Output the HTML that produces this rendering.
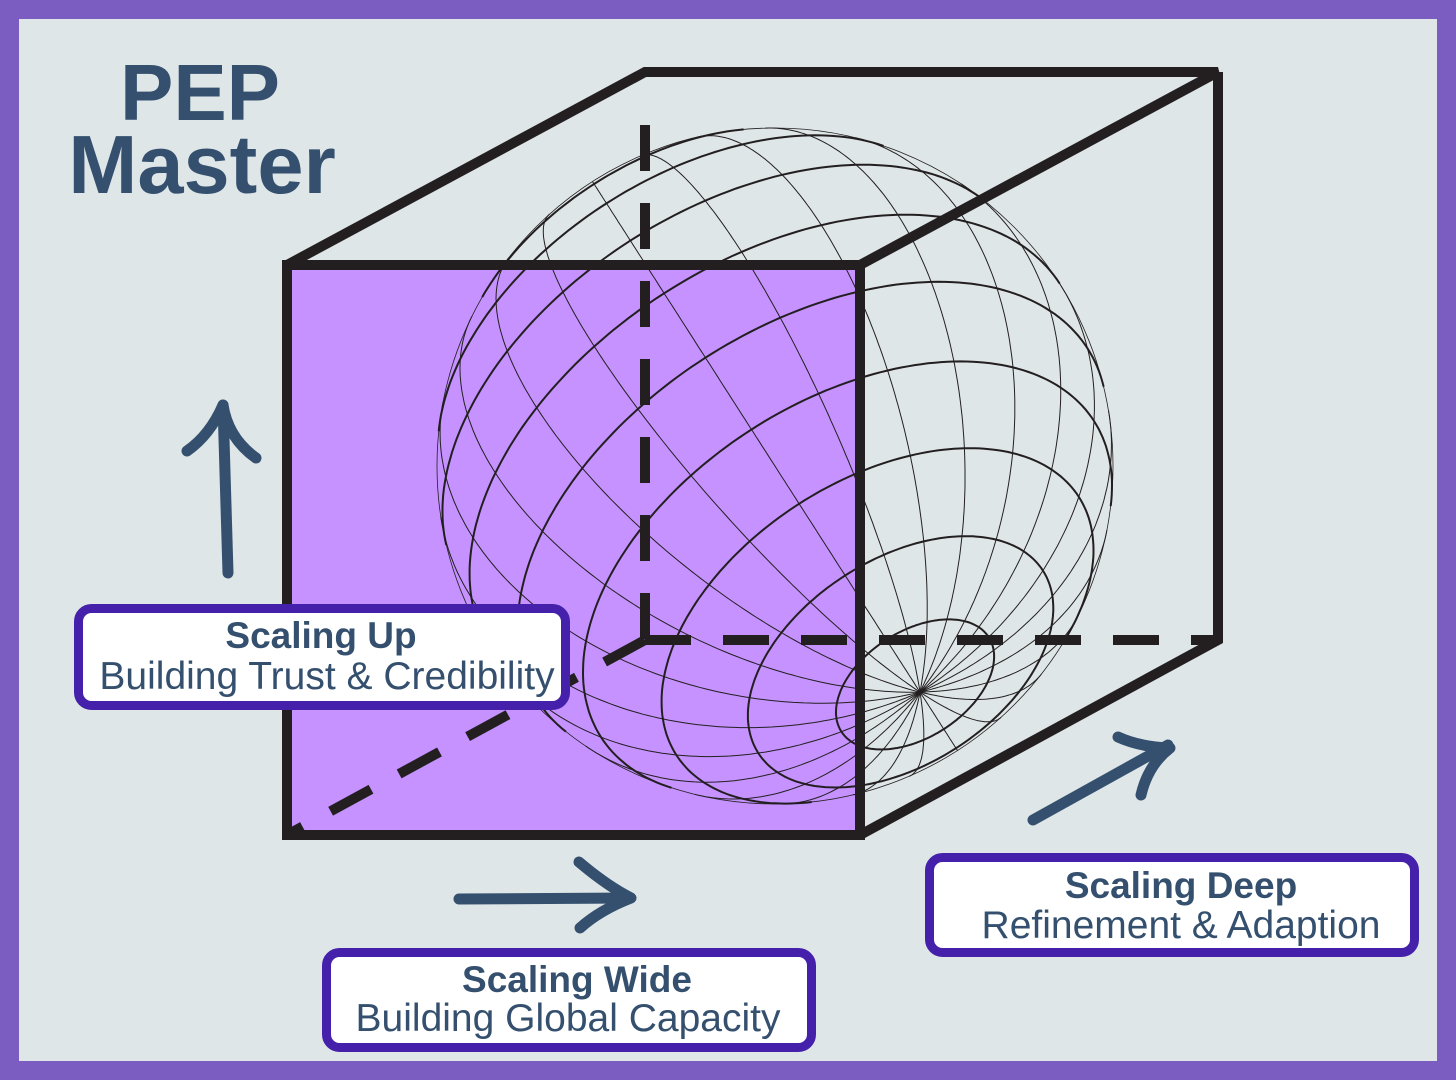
<!DOCTYPE html>
<html><head><meta charset="utf-8"><style>
html,body{margin:0;padding:0;}
body{width:1456px;height:1080px;overflow:hidden;background:#7b5cc0;}
svg{display:block;}
</style></head><body>
<svg id="s" width="1456" height="1080" viewBox="0 0 1456 1080" xmlns="http://www.w3.org/2000/svg">
<rect x="0" y="0" width="1456" height="1080" fill="#7b5cc0"/>
<rect x="19" y="19" width="1418" height="1042" fill="#dfe6e8"/>
<text x="200" y="120" text-anchor="middle" font-family="Liberation Sans, sans-serif" font-weight="bold" font-size="80" fill="#34506e">PEP</text>
<text x="202" y="193" text-anchor="middle" font-family="Liberation Sans, sans-serif" font-weight="bold" font-size="83" fill="#34506e">Master</text>
<rect x="287" y="265" width="573" height="570" fill="#c592ff"/>
<g id="globe" fill="none" stroke="#231f20"></g>
<g stroke="#231f20" stroke-width="10" fill="none" stroke-linejoin="miter">
<polyline points="287,265 645,72 1218,72 860,265"/>
<polyline points="1218,72 1218,640 860,835"/>
<rect x="287" y="265" width="573" height="570"/>
<g stroke-dasharray="46,32" stroke-width="10">
<line x1="645" y1="125" x2="645" y2="640"/>
<line x1="645" y1="640" x2="1218" y2="640"/>
<line x1="645" y1="640" x2="287" y2="835"/>
</g>
</g>
<g stroke="#34506e" stroke-width="11" stroke-linecap="round" fill="none" stroke-linejoin="round">
<path d="M228,573 L223,405"/>
<path d="M187,451 Q210,435 223,405 Q228,438 256,458"/>
<path d="M459,899 L630,898"/>
<path d="M579,862 Q606,885 631,898 Q600,910 580,928"/>
<path d="M1033,820 L1168,745"/>
<path d="M1118,737 Q1140,747 1170,748 Q1148,765 1141,795"/>
</g>
<g font-family="Liberation Sans, sans-serif" fill="#34506e" text-anchor="middle">
<rect x="78.5" y="608.5" width="487" height="97" rx="13" fill="#fff" stroke="#4520ab" stroke-width="9"/>
<text x="321" y="648" font-weight="bold" font-size="37">Scaling Up</text>
<text x="327" y="689" font-size="39">Building Trust &amp; Credibility</text>
<rect x="326.5" y="952.5" width="485" height="95" rx="13" fill="#fff" stroke="#4520ab" stroke-width="9"/>
<text x="577" y="992" font-weight="bold" font-size="37">Scaling Wide</text>
<text x="568" y="1031" font-size="39">Building Global Capacity</text>
<rect x="929.5" y="857.5" width="485" height="95" rx="13" fill="#fff" stroke="#4520ab" stroke-width="9"/>
<text x="1181" y="898" font-weight="bold" font-size="37">Scaling Deep</text>
<text x="1181" y="938" font-size="39">Refinement &amp; Adaption</text>
</g>
</svg>
<script>
(function(){
var cx=775,cy=466,R=338;
var p=[0.429,0.669,0.607];
var e1=[0.842,-0.540,0];
var e2=[0.328,0.511,-0.795];
var g=document.getElementById('globe');
function pt(phi,lam){
 var c=Math.cos(phi),s=Math.sin(phi),cl=Math.cos(lam),sl=Math.sin(lam);
 return [0,1,2].map(function(i){return c*(cl*e1[i]+sl*e2[i])+s*p[i];});
}
function draw(fn,n,w){
 var d='',pen=false;
 for(var i=0;i<=n;i++){
  var v=fn(i/n);
  if(v[2]>=-0.01){
   var x=(cx+R*v[0]).toFixed(1),y=(cy+R*v[1]).toFixed(1);
   d+=(pen?'L':'M')+x+','+y;pen=true;
  } else pen=false;
 }
 if(d){var e=document.createElementNS('http://www.w3.org/2000/svg','path');e.setAttribute('d',d);e.setAttribute('stroke-width',w);g.appendChild(e);}
}
var D=Math.PI/180;
for(var la=-75;la<=75;la+=15){
 (function(la){draw(function(t){return pt(la*D,t*2*Math.PI);},240,2);})(la);
}
for(var lo=0;lo<360;lo+=15){
 (function(lo){draw(function(t){return pt((-90+180*t)*D,lo*D);},200,1);})(lo);
}
var c=document.createElementNS('http://www.w3.org/2000/svg','circle');
c.setAttribute('cx',cx);c.setAttribute('cy',cy);c.setAttribute('r',R);c.setAttribute('stroke-width',0.8);g.appendChild(c);
})();
</script>
</body></html>
